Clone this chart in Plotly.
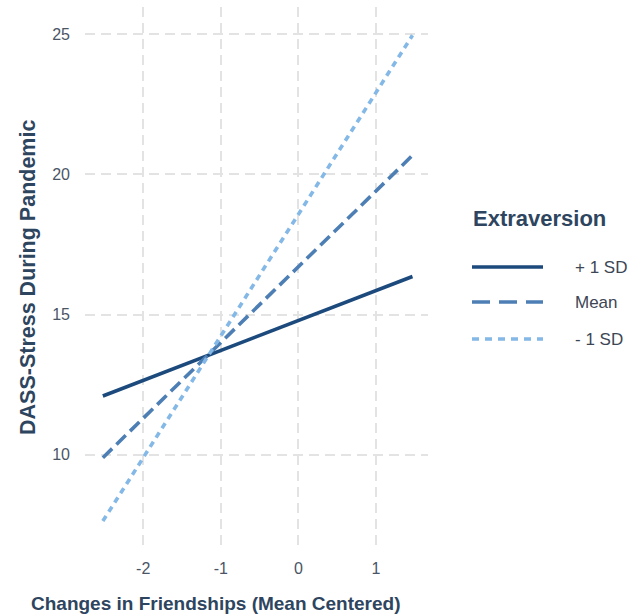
import plotly.graph_objects as go

# Simple slopes: predicted stress at the ends of the friendship-change range
x_ends = [-2.52, 1.47]
series_names = ["+ 1 SD", "Mean", "- 1 SD"]
stress_plus_sd = [12.1, 16.36]
stress_mean = [9.9, 20.68]
stress_minus_sd = [7.64, 24.96]

x_ticks = [-2, -1, 0, 1]
x_tick_labels = ["-2", "-1", "0", "1"]
y_ticks = [10, 15, 20, 25]

colors = ["#1c4a7d", "#4d7fb5", "#84b8e6"]
dashes = ["solid", "13px,6px", "6px,5px"]
legend_dashes = ["solid", "18px,9px", "7px,6px"]
series_values = [stress_plus_sd, stress_mean, stress_minus_sd]

W, H = 631, 615
L, R, T, B = 85, 203, 7, 67
PW, PH = W - L - R, H - T - B

fig = go.Figure()
for name, vals, col, dsh in zip(series_names, series_values, colors, dashes):
    fig.add_trace(go.Scatter(
        x=x_ends, y=vals, mode="lines", name=name,
        line=dict(color=col, width=3.6, dash=dsh),
        showlegend=False,
    ))

title_col = "#2e4560"
tick_col = "#4a5566"
grid = dict(showgrid=True, gridcolor="#e3e3e3", gridwidth=1.8, griddash="10px,6px",
            zeroline=False, showline=False, ticks="",
            tickfont=dict(family="Liberation Sans, Arial", size=16, color=tick_col))

fig.update_xaxes(range=[-2.75, 1.67], tickvals=x_ticks, ticktext=x_tick_labels,
                 ticklabelstandoff=9, **grid)
fig.update_yaxes(range=[6.68, 25.97], tickvals=y_ticks, ticklabelstandoff=14, **grid)


def px(xp):
    # page pixel -> paper fraction (relative to the plotting area)
    return (xp - L) / PW


def py(yp):
    return 1 - (yp - T) / PH


annotations = [
    dict(text="<b>Changes in Friendships (Mean Centered)</b>", x=px(216), y=py(603),
         font=dict(family="Liberation Sans, Arial", size=19, color=title_col)),
    dict(text="<b>DASS-Stress During Pandemic</b>", x=px(28), y=py(278), textangle=-90,
         font=dict(family="Liberation Sans, Arial", size=21.5, color=title_col)),
    dict(text="<b>Extraversion</b>", x=px(471), y=py(218), xanchor="left",
         font=dict(family="Liberation Sans, Arial", size=22, color=title_col)),
]
shapes = []
legend_y = [267, 302, 339]
for name, col, dsh, yy in zip(series_names, colors, legend_dashes, legend_y):
    shapes.append(dict(type="line", xref="paper", yref="paper",
                       x0=px(472), x1=px(543), y0=py(yy), y1=py(yy),
                       line=dict(color=col, width=3.6, dash=dsh)))
    annotations.append(dict(text=name, x=px(573), y=py(yy), xanchor="left",
                            font=dict(family="Liberation Sans, Arial", size=17, color="#3d4655")))
for a in annotations:
    a.update(xref="paper", yref="paper", showarrow=False)
    a.setdefault("xanchor", "center")
    a.setdefault("yanchor", "middle")

fig.update_layout(
    width=W, height=H,
    margin=dict(l=L, r=R, t=T, b=B),
    paper_bgcolor="white", plot_bgcolor="white",
    annotations=annotations, shapes=shapes,
    showlegend=False,
)

fig.write_html("out.html")
